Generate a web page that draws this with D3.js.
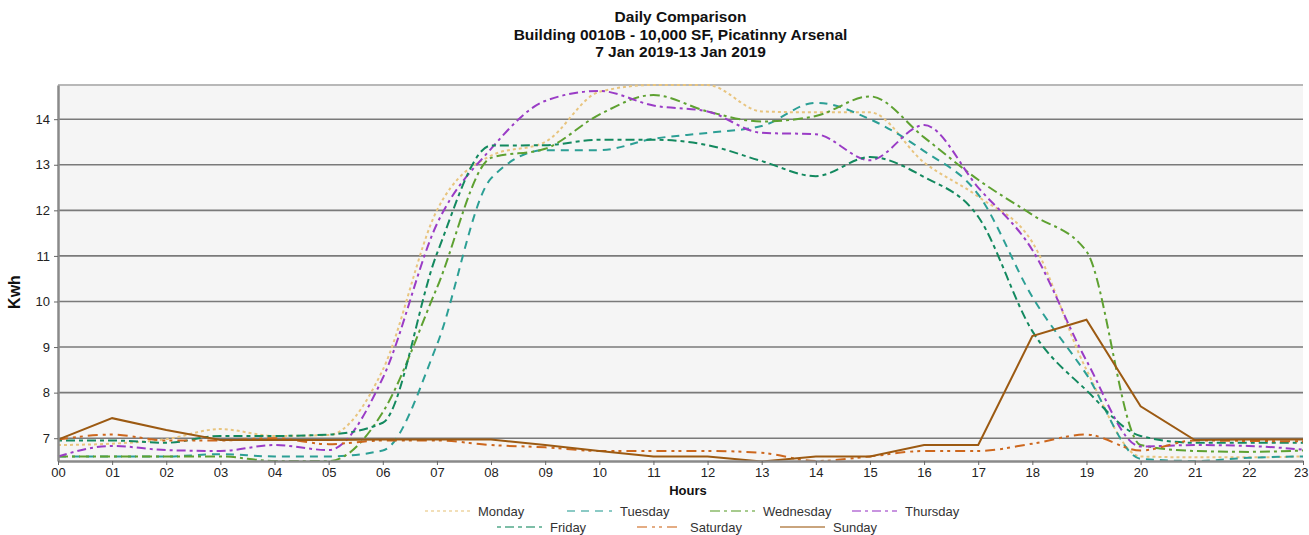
<!DOCTYPE html>
<html>
<head>
<meta charset="utf-8">
<script src="https://cdn.jsdelivr.net/npm/d3@7"></script>
<style>
  body { margin: 0; background: #fff; }
  svg { font-family: "Liberation Sans", Arial, sans-serif; }
</style>
</head>
<body>
<svg id="chart" width="1309" height="535"></svg>
<script>
// hours on the x axis
let hours = ["00","01","02","03","04","05","06","07","08","09","10","11",
             "12","13","14","15","16","17","18","19","20","21","22","23"];

let monday    = [6.85,6.88,6.98,7.2,7.05,7.07,8.5,12.0,13.2,13.5,14.6,14.75,14.75,14.17,14.15,14.15,13.05,12.3,11.3,8.5,6.6,6.58,6.58,6.6];
let tuesday   = [6.6,6.6,6.6,6.65,6.6,6.6,6.73,9.05,12.7,13.32,13.32,13.57,13.7,13.85,14.36,14.0,13.3,12.35,10.1,8.4,6.55,6.5,6.57,6.6];
let wednesday = [6.6,6.6,6.6,6.6,6.5,6.5,7.57,10.3,13.15,13.35,14.1,14.53,14.17,13.95,14.07,14.5,13.6,12.67,11.9,11.1,6.85,6.72,6.7,6.73];
let thursday  = [6.6,6.83,6.74,6.72,6.85,6.74,8.32,11.7,13.35,14.4,14.62,14.3,14.17,13.7,13.67,13.1,13.87,12.5,11.13,8.7,6.82,6.85,6.83,6.75];
let friday    = [6.95,6.95,6.9,7.05,7.05,7.08,7.34,11.05,13.42,13.43,13.55,13.55,13.43,13.08,12.75,13.17,12.73,11.86,9.35,8.05,7.05,6.9,6.9,6.9];
let saturday  = [6.97,7.08,6.95,6.95,7.0,6.87,6.95,6.95,6.85,6.8,6.72,6.72,6.72,6.68,6.5,6.6,6.72,6.72,6.88,7.08,6.73,6.95,6.94,6.93];
let sunday    = [6.97,7.44,7.18,6.96,6.96,6.96,6.97,6.97,6.97,6.85,6.72,6.6,6.6,6.49,6.6,6.6,6.85,6.85,9.24,9.6,7.7,6.96,6.97,6.97];

let dayNames  = ["Monday","Tuesday","Wednesday","Thursday","Friday","Saturday","Sunday"];
let dayValues = [monday, tuesday, wednesday, thursday, friday, saturday, sunday];
let yTicks    = [7,8,9,10,11,12,13,14];

let dayColours = ["#e8c47e","#2c9f95","#5ea131","#9a3cc6","#13895f","#cd671d","#9c5a12"];
let dayDashes  = ["3,3","8,6","10,4,3,4","9,4,3,4","4,4,9,4","10,5,3,4,3,5",null];

let svg = d3.select("#chart");
let margin = {left: 58, top: 85, right: 6, bottom: 74};
let width = 1309, height = 535;

let x = d3.scalePoint().domain(hours).range([margin.left, width - margin.right]);
let y = d3.scaleLinear().domain([6.5, 14.75]).range([height - margin.bottom, margin.top]);

// plot background
svg.append("rect")
	.attr("x", margin.left).attr("y", margin.top)
	.attr("width", width - margin.right - margin.left)
	.attr("height", height - margin.bottom - margin.top)
	.attr("fill", "#f5f5f5");

// gridlines
svg.append("g").selectAll("line")
	.data(yTicks)
	.enter().append("line")
	  .attr("x1", margin.left).attr("x2", width - margin.right)
	  .attr("y1", d => y(d)).attr("y2", d => y(d))
	  .attr("stroke", "#7a7a7a")
	  .attr("stroke-width", 1.6);

// top border
svg.append("line")
	.attr("x1", margin.left).attr("x2", width - margin.right)
	.attr("y1", margin.top).attr("y2", margin.top)
	.attr("stroke", "#b8b8b8").attr("stroke-width", 2);

// lines
let lineSmooth = d3.line().x((d, i) => x(hours[i])).y(d => y(d)).curve(d3.curveMonotoneX);
let lineStraight = d3.line().x((d, i) => x(hours[i])).y(d => y(d));

let series = svg.append("g");
dayValues.forEach(function(vals, k){
	series.append("path")
		.attr("d", k === 6 ? lineStraight(vals) : lineSmooth(vals))
		.attr("fill", "none")
		.attr("stroke", dayColours[k])
		.attr("stroke-width", 2)
		.attr("stroke-dasharray", dayDashes[k]);
});

// axes
let yAxis = svg.append("g")
	.attr("transform", `translate(${margin.left},0)`)
	.call(d3.axisLeft(y).tickValues(yTicks).tickSize(4).tickSizeOuter(0).tickPadding(4));
let xAxis = svg.append("g")
	.attr("transform", `translate(0,${height - margin.bottom})`)
	.call(d3.axisBottom(x).tickSize(4).tickSizeOuter(0).tickPadding(3));

[yAxis, xAxis].forEach(function(ax){
	ax.select(".domain").attr("stroke", "#8a8a8a").attr("stroke-width", 2.5);
	ax.selectAll(".tick line").attr("stroke", "#666");
	ax.selectAll("text").attr("font-size", 13).attr("fill", "#222")
		.attr("font-family", "'Liberation Sans', Arial, sans-serif");
});
// keep the last hour label inside the page
xAxis.selectAll(".tick text").filter(d => d === "23")
	.attr("text-anchor", "end").attr("dx", 5);

// titles
let titles = ["Daily Comparison", "Building 0010B - 10,000 SF, Picatinny Arsenal", "7 Jan 2019-13 Jan 2019"];
svg.append("g").selectAll("text")
	.data(titles)
	.enter().append("text")
	  .attr("x", (margin.left + width - margin.right) / 2)
	  .attr("y", (d, i) => 22 + i * 17.5)
	  .attr("text-anchor", "middle")
	  .attr("font-size", 15.5)
	  .attr("font-weight", "bold")
	  .attr("fill", "#111")
	  .text(d => d);

svg.append("text")
	.attr("transform", "translate(20,292) rotate(-90)")
	.attr("text-anchor", "middle")
	.attr("font-size", 16)
	.attr("font-weight", "bold")
	.attr("fill", "#111")
	.text("Kwh");

svg.append("text")
	.attr("x", 688).attr("y", 495)
	.attr("text-anchor", "middle")
	.attr("font-size", 13)
	.attr("font-weight", "bold")
	.attr("fill", "#111")
	.text("Hours");

// legend
let legendPos = [[425,511],[567,511],[710,511],[852,511],[497,527],[637,527],[780,527]];
let legend = svg.append("g").attr("class", "legend");
dayNames.forEach(function(name, k){
	let g = legend.append("g").attr("transform", `translate(${legendPos[k][0]},${legendPos[k][1]})`);
	g.append("line")
		.attr("x1", 0).attr("x2", 45)
		.attr("y1", 0).attr("y2", 0)
		.attr("stroke", dayColours[k])
		.attr("stroke-opacity", 0.55)
		.attr("stroke-width", 2)
		.attr("stroke-dasharray", dayDashes[k]);
	g.append("text")
		.attr("x", 53).attr("y", 4.5)
		.attr("font-size", 13)
		.attr("fill", "#333")
		.text(name);
});
</script>
</body>
</html>
